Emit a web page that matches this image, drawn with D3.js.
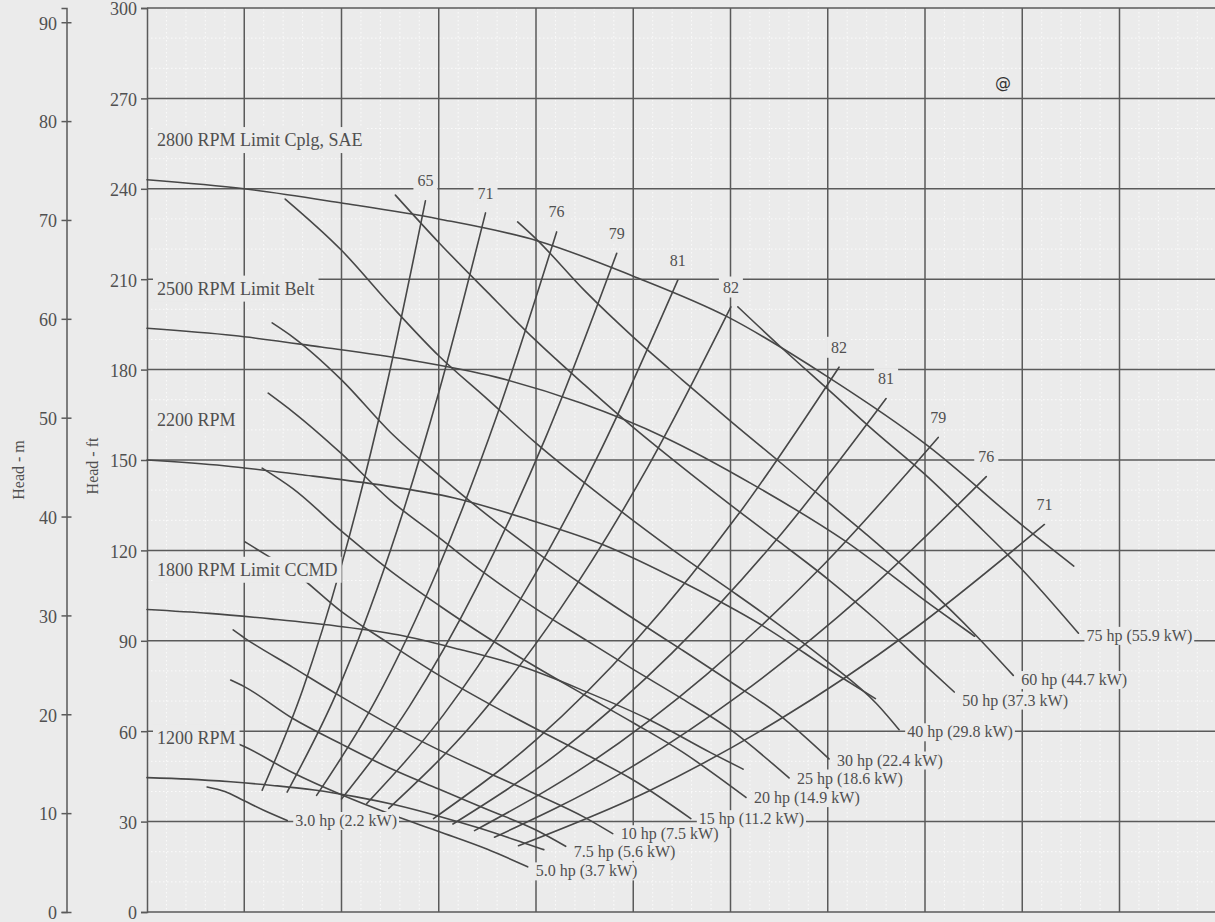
<!DOCTYPE html>
<html><head><meta charset="utf-8">
<script src="https://cdn.jsdelivr.net/npm/d3@7"></script>
<style>html,body{margin:0;padding:0;background:#ebebeb;} svg{display:block;}</style>
</head><body>
<svg id="chart" width="1215" height="922"></svg>
<script>
// ---------- DATA (flow in grid units of 100 per major line, head in ft) ----------
const ftTicks = [0,30,60,90,120,150,180,210,240,270,300];
const mTicks = [0,10,20,30,40,50,60,70,80,90];
const flowGrid = [100,200,300,400,500,600,700,800,900,1000];

// Speed (head-capacity) curves
const speedNames = ["2800 RPM Limit Cplg, SAE","2500 RPM Limit Belt","2200 RPM","1800 RPM Limit CCMD","1200 RPM"];
const rpm2800Q = [0,100,200,300,402,500,597,700,803,902,953];
const rpm2800H = [243,240,235.3,230,222.7,211,197.5,177.6,154.7,127.8,114.8];
const rpm2500Q = [0,89,179,268,359,447,533,625,717,806,851];
const rpm2500H = [193.7,191.3,187.5,183.3,177.5,168.8,157.4,141.5,123.3,101.9,91.5];
const rpm2200Q = [0,79,157,236,316,393,469,550,631,709,749];
const rpm2200H = [150,148.1,145.2,141.9,137.4,130.2,121.9,109.6,95.4,78.9,70.8];
const rpm1800Q = [0,64,129,193,258,322,384,450,516,580,613];
const rpm1800H = [100.4,99.1,97.2,95,92,87.1,81.6,73.3,63.9,52.8,47.4];
const rpm1200Q = [0,43,86,129,172,214,256,300,344,387,408];
const rpm1200H = [44.6,44.1,43.2,42.0,40.5,38.3,35.5,31.8,27.6,23.0,20.7];

// Efficiency iso-lines (labels at upper end)
const effLabels = ["65","71","76","79","81","82","82","81","79","76","71"];
const eff65Q = [118.4,160,200,245,286.3];   const eff65H = [40.4,73.7,115.2,172.8,236.0];
const eff71Q = [144.1,195,250,300,348.1];   const eff71H = [39.8,72.8,119.7,172.4,232.0];
const eff76Q = [174.4,235,300,360,421.2];   const eff76H = [38.7,70.2,114.5,164.9,225.7];
const eff79Q = [200,270,340,410,483];       const eff79H = [37.5,68.3,108.3,157.5,218.6];
const eff81Q = [226,305,385,465,545.8];     const eff81H = [36.0,65.5,104.3,152.2,209.7];
const eff82Q = [248.6,335,425,515,600.4];   const eff82H = [34.4,62.5,100.6,147.7,200.8];
const eff82bQ = [294.6,400,505,610,711.6];  const eff82bH = [31.0,57.1,91.0,132.8,180.8];
const eff81bQ = [314.6,425,540,650,760];    const eff81bH = [29.2,53.3,86.0,124.6,170.4];
const eff79bQ = [336.8,455,575,695,813.6];  const eff79bH = [27.0,49.3,78.7,115.0,157.5];
const eff76bQ = [357.3,485,610,735,863];    const eff76bH = [24.8,45.6,72.2,104.8,144.5];
const eff71bQ = [382,515,650,785,922.8];    const eff71bH = [22.0,40.0,63.8,93.0,128.6];

// Constant power lines (labels at lower end)
const hpLabels = ["3.0 hp (2.2 kW)","5.0 hp (3.7 kW)","7.5 hp (5.6 kW)","10 hp (7.5 kW)","15 hp (11.2 kW)","20 hp (14.9 kW)","25 hp (18.6 kW)","30 hp (22.4 kW)","40 hp (29.8 kW)","50 hp (37.3 kW)","60 hp (44.7 kW)","75 hp (55.9 kW)"];
const hp3Q  = [61.8,80,100,120,144.2];                 const hp3H  = [41.5,40.0,36.9,33.8,30.4];
const hp5Q  = [73.1,100,150,200,250,300,350,391.4];    const hp5H  = [58.4,54.9,46.2,38.9,32.5,26.7,20.8,15.0];
const hp7Q  = [86,100,150,200,250,300,350,400,430.5];  const hp7H  = [77.0,74.8,64.2,55.7,47.7,40.8,34.0,27.2,21.8];
const hp10Q = [88.6,100,150,200,250,300,350,400,450,478.9];
const hp10H = [93.6,91.0,81.2,71.4,62.1,53.8,46.3,39.1,31.4,26.0];
const hp15Q = [100.9,125,150,200,250,300,350,400,450,500,559.2];
const hp15H = [122.8,118.0,113.0,99.7,88.9,78.6,69.4,60.8,52.5,43.8,31.0];
const hp20Q = [118.4,150,200,250,300,350,400,450,500,550,615.9];
const hp20H = [147.3,140.5,126.4,113.3,101.8,91.1,81.3,72.0,62.8,53.2,38.0];
const hp25Q = [124.6,150,200,250,300,350,400,450,500,550,600,660.2];
const hp25H = [172.2,166.0,152.1,136.7,124.3,111.8,100.6,90.5,80.5,70.8,60.5,44.5];
const hp30Q = [128.7,150,200,250,300,350,400,450,500,550,600,650,701.3];
const hp30H = [195.5,190.8,176.6,159.3,145.0,131.7,119.5,108.1,97.4,87.0,76.4,65.4,50.8];
const hp40Q = [142.1,200,250,300,350,400,450,500,550,600,650,700,750,773.4];
const hp40H = [236.6,219.6,201.6,184.6,170.2,155.6,142.4,129.9,118.0,106.8,95.3,83.0,69.2,60.5];
const hp50Q = [255.4,300,350,400,450,500,550,600,650,700,750,800,830.1];
const hp50H = [237.9,222.2,205.7,189.6,174.9,160.8,147.7,135.1,122.9,110.5,96.9,81.9,73.0];
const hp60Q = [381.1,400,450,500,550,600,650,700,750,800,850,890.8];
const hp60H = [229.0,223.4,206.2,190.8,176.7,162.9,149.5,136.0,122.5,108.3,92.6,78.5];
const hp75Q = [607.6,650,700,750,800,850,900,957.8];
const hp75H = [200.8,188.0,173.5,159.0,145.2,129.7,113.6,92.5];

// ---------- LAYOUT (pixel offsets of the power labels from their line ends) ----------
const hpLabelDy = [0,4,5,0,0,0,0,1,2,8,4,2];

// ---------- BUILD ----------
const zip = (qs, hs) => qs.map((q,i)=>({q, h:hs[i]}));
const speedSeries = [zip(rpm2800Q,rpm2800H),zip(rpm2500Q,rpm2500H),zip(rpm2200Q,rpm2200H),zip(rpm1800Q,rpm1800H),zip(rpm1200Q,rpm1200H)];
const effSeries = [zip(eff65Q,eff65H),zip(eff71Q,eff71H),zip(eff76Q,eff76H),zip(eff79Q,eff79H),zip(eff81Q,eff81H),zip(eff82Q,eff82H),
                   zip(eff82bQ,eff82bH),zip(eff81bQ,eff81bH),zip(eff79bQ,eff79bH),zip(eff76bQ,eff76bH),zip(eff71bQ,eff71bH)];
const hpSeries = [zip(hp3Q,hp3H),zip(hp5Q,hp5H),zip(hp7Q,hp7H),zip(hp10Q,hp10H),zip(hp15Q,hp15H),zip(hp20Q,hp20H),
                  zip(hp25Q,hp25H),zip(hp30Q,hp30H),zip(hp40Q,hp40H),zip(hp50Q,hp50H),zip(hp60Q,hp60H),zip(hp75Q,hp75H)];

const svg = d3.select("#chart");
const bg = "#ebebeb", ink = "#474747", txt = "#505050";
const x = d3.scaleLinear().domain([0,1100]).range([147,1216.75]);
const y = d3.scaleLinear().domain([0,300]).range([912,8]);
const yM = d3.scaleLinear().domain([0,300/3.28084]).range([912,8]);
const serif = "'Liberation Serif','Times New Roman',serif";

svg.append("rect").attr("width",1215).attr("height",922).attr("fill",bg);

// minor grid
const gMinor = svg.append("g").attr("stroke","#fbfbfb").attr("stroke-width",1).attr("stroke-dasharray","1.5,2.5");
gMinor.selectAll("line.h").data(d3.range(10,300,10).filter(v=>v%30!==0)).join("line")
  .attr("x1",x(0)).attr("x2",1215).attr("y1",d=>y(d)).attr("y2",d=>y(d));
gMinor.selectAll("line.v").data(d3.range(20,1100,20).filter(v=>v%100!==0)).join("line")
  .attr("x1",d=>x(d)).attr("x2",d=>x(d)).attr("y1",y(300)).attr("y2",y(0));

// major grid
const gMajor = svg.append("g").attr("stroke","#5a5a5a").attr("stroke-width",1.5);
gMajor.selectAll("line.h").data(ftTicks).join("line")
  .attr("x1",x(0)).attr("x2",1215).attr("y1",d=>y(d)).attr("y2",d=>y(d));
gMajor.selectAll("line.v").data(flowGrid).join("line")
  .attr("x1",d=>x(d)).attr("x2",d=>x(d)).attr("y1",y(300)).attr("y2",y(0));

// ft axis
const axFt = svg.append("g").attr("transform",`translate(${x(0)},0)`)
  .call(d3.axisLeft(y).tickValues(ftTicks).tickSize(6).tickPadding(4).tickFormat(d3.format("d")));
axFt.select(".domain").attr("stroke","#5a5a5a").attr("stroke-width",1.5);
axFt.selectAll(".tick line").attr("stroke","#5a5a5a").attr("stroke-width",1.5);
axFt.selectAll(".tick text").attr("fill",txt).attr("dy","0.38em").style("font-family",serif).style("font-size","18px");

// m axis
const axM = svg.append("g").attr("transform","translate(66.5,0)")
  .call(d3.axisLeft(yM).tickValues(mTicks).tickSize(5).tickPadding(4.5).tickFormat(d3.format("d")));
axM.select(".domain").attr("stroke","#5a5a5a").attr("stroke-width",1.5);
axM.selectAll(".tick line").attr("stroke","#5a5a5a").attr("stroke-width",1.5);
axM.selectAll(".tick").append("line").attr("x1",0).attr("x2",5).attr("stroke","#5a5a5a").attr("stroke-width",1.5);
axM.selectAll(".tick text").attr("fill",txt).attr("dy","0.38em").style("font-family",serif).style("font-size","18px");

// axis titles
svg.append("text").attr("transform","translate(18,470) rotate(-90)").attr("text-anchor","middle").attr("dy","0.35em")
  .attr("fill",txt).style("font-family",serif).style("font-size","16px").text("Head - m");
svg.append("text").attr("transform","translate(92,466) rotate(-90)").attr("text-anchor","middle").attr("dy","0.35em")
  .attr("fill",txt).style("font-family",serif).style("font-size","16px").text("Head - ft");

// curves
const line = d3.line().x(d=>x(d.q)).y(d=>y(d.h)).curve(d3.curveMonotoneX);
const gCurves = svg.append("g").attr("fill","none").attr("stroke",ink).attr("stroke-width",1.6).attr("stroke-linecap","round");
gCurves.selectAll("path.speed").data(speedSeries).join("path").attr("d",line);
gCurves.selectAll("path.eff").data(effSeries).join("path").attr("d",line);
gCurves.selectAll("path.hp").data(hpSeries).join("path").attr("d",line);

// labels with background boxes
const gBg = svg.append("g");
const gTxt = svg.append("g");
function label(t, px, py, anchor, size, padX, padY, font){
  const el = gTxt.append("text").attr("x",px).attr("y",py).attr("dy","0.35em").attr("text-anchor",anchor)
    .attr("fill",txt).style("font-family",font||serif).style("font-size",size+"px").text(t);
  const b = el.node().getBBox();
  gBg.append("rect").attr("x",b.x-padX).attr("y",b.y-padY).attr("width",b.width+2*padX).attr("height",b.height+2*padY).attr("fill",bg);
}
speedSeries.forEach((s,i)=> label(speedNames[i], x(0)+10, y(s[0].h)-40, "start", 18, 4, 3));
effSeries.forEach((s,i)=>{ const t=s[s.length-1]; label(effLabels[i], x(t.q), y(t.h)-20, "middle", 16, 4, 2); });
hpSeries.forEach((s,i)=>{ const e=s[s.length-1]; label(hpLabels[i], x(e.q)+8, y(e.h)+hpLabelDy[i], "start", 16, 2, 0); });

// stray mark in the scan
svg.append("text").attr("x",1003).attr("y",82).attr("dy","0.35em").attr("text-anchor","middle")
  .attr("fill","#333").style("font-family","'DejaVu Sans',sans-serif").style("font-size","16px").text("@");
</script>
</body></html>
